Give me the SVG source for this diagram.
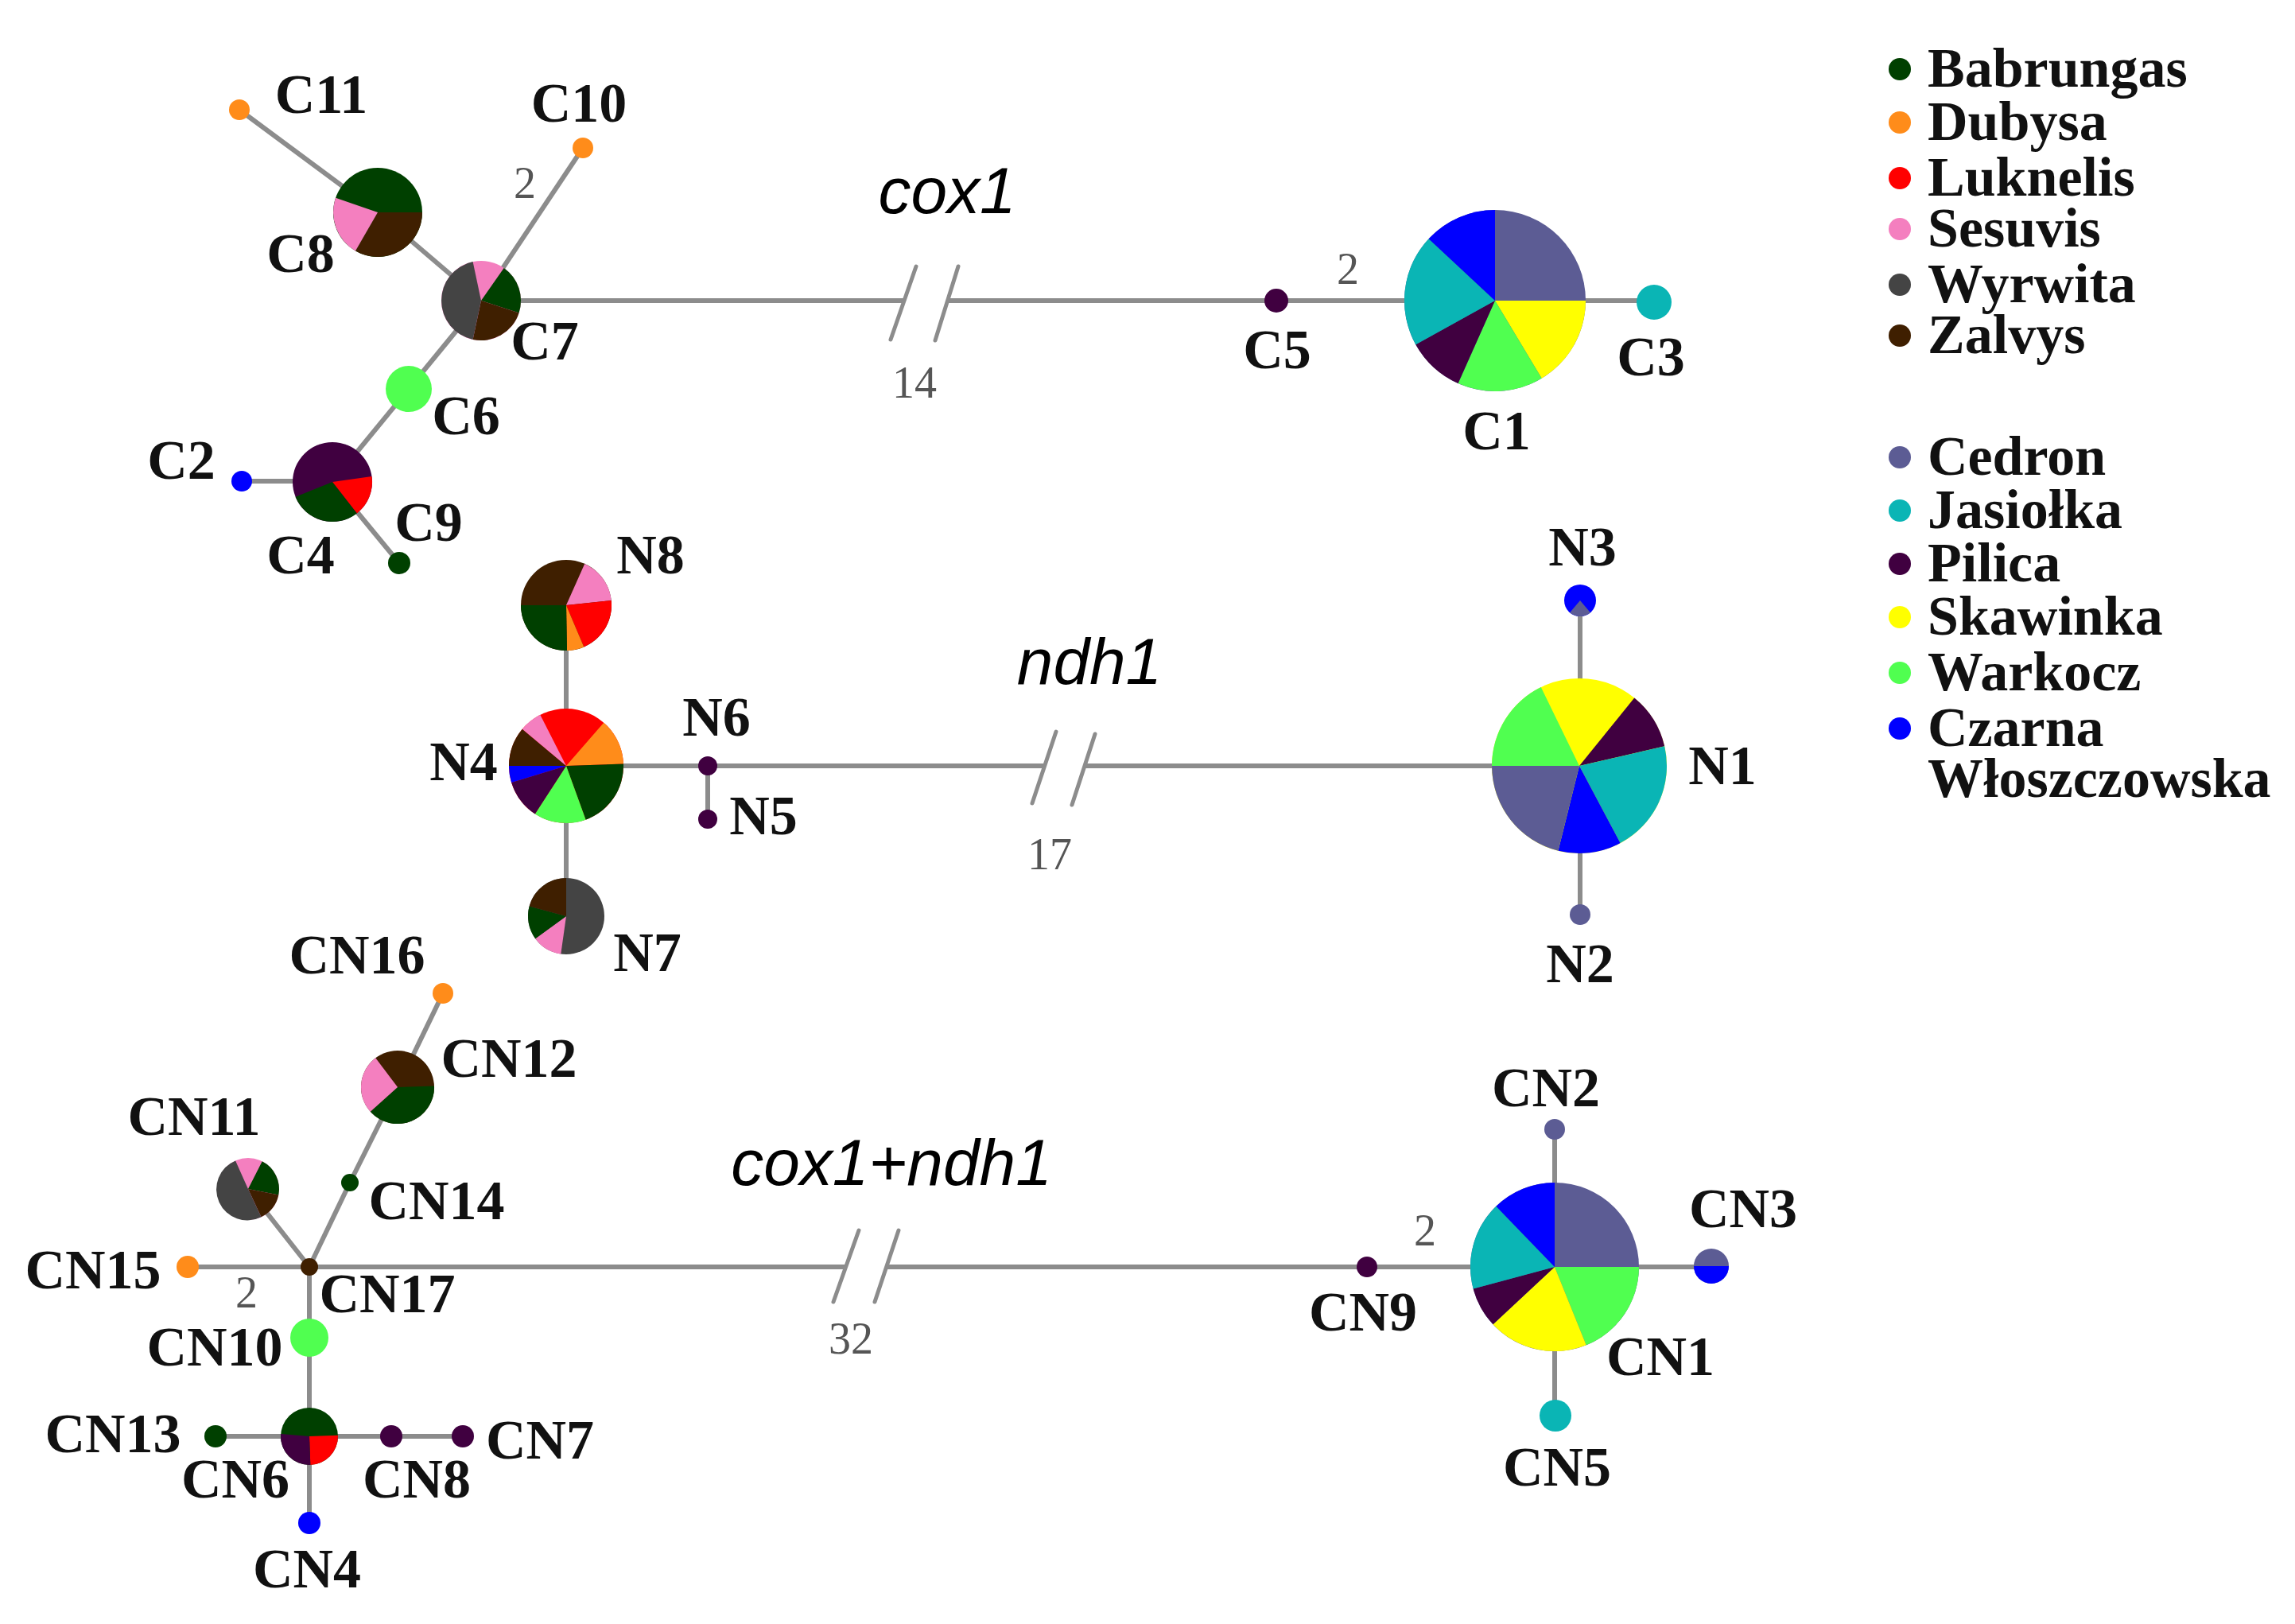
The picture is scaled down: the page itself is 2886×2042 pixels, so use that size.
<svg xmlns="http://www.w3.org/2000/svg" width="2886" height="2042" viewBox="0 0 2886 2042">
<style>
.e{stroke:#8c8c8c;stroke-width:6;fill:none}
.brk{stroke:#8c8c8c;stroke-width:5;stroke-linecap:round}
.lbl{font-family:"Liberation Serif","DejaVu Serif",serif;font-weight:bold;font-size:70px;fill:#111;text-anchor:middle}
.leg{font-family:"Liberation Serif","DejaVu Serif",serif;font-weight:bold;font-size:70px;fill:#111}
.num{font-family:"Liberation Serif","DejaVu Serif",serif;font-size:56px;fill:#555;text-anchor:middle}
.gene{font-family:"Liberation Sans",Arial,sans-serif;font-style:italic;font-size:82px;fill:#000;text-anchor:middle}
.f-bab{fill:#004000}
.f-dub{fill:#ff8c1a}
.f-luk{fill:#ff0000}
.f-ses{fill:#f47fbf}
.f-wyr{fill:#444444}
.f-zal{fill:#3f1f00}
.f-ced{fill:#5c5c94}
.f-jas{fill:#0ab5b5}
.f-pil{fill:#400040}
.f-ska{fill:#ffff00}
.f-war{fill:#50ff50}
.f-cza{fill:#0000ff}
</style>
<rect width="2886" height="2042" fill="#ffffff"/>

<g id="connectors">
  <line class="e" x1="301" y1="138" x2="475" y2="267"/>
  <line class="e" x1="475" y1="267" x2="605" y2="378"/>
  <line class="e" x1="605" y1="378" x2="733" y2="186"/>
  <line class="e" x1="605" y1="378" x2="514" y2="489"/>
  <line class="e" x1="514" y1="489" x2="418" y2="606"/>
  <line class="e" x1="418" y1="605" x2="304" y2="605"/>
  <line class="e" x1="418" y1="606" x2="502" y2="708"/>
  <line class="e" x1="605" y1="378" x2="1137" y2="378"/>
  <line class="e" x1="1192" y1="378" x2="2080" y2="378"/>
  <line class="brk" x1="1152" y1="335" x2="1120" y2="427"/>
  <line class="brk" x1="1205" y1="335" x2="1176" y2="428"/>

  <line class="e" x1="712" y1="761" x2="712" y2="1152"/>
  <line class="e" x1="712" y1="963" x2="1314" y2="963"/>
  <line class="e" x1="1364" y1="963" x2="1986" y2="963"/>
  <line class="e" x1="890" y1="963" x2="890" y2="1030"/>
  <line class="e" x1="1987" y1="755" x2="1987" y2="1150"/>
  <line class="brk" x1="1328" y1="920" x2="1298" y2="1010"/>
  <line class="brk" x1="1377" y1="923" x2="1348" y2="1012"/>

  <line class="e" x1="557" y1="1249" x2="500" y2="1367"/>
  <line class="e" x1="500" y1="1367" x2="440" y2="1487"/>
  <line class="e" x1="440" y1="1487" x2="389" y2="1593"/>
  <line class="e" x1="312" y1="1495" x2="389" y2="1593"/>
  <line class="e" x1="236" y1="1593" x2="389" y2="1593"/>
  <line class="e" x1="389" y1="1593" x2="1064" y2="1593"/>
  <line class="e" x1="1115" y1="1593" x2="2152" y2="1593"/>
  <line class="e" x1="1955" y1="1420" x2="1955" y2="1780"/>
  <line class="e" x1="389" y1="1593" x2="389" y2="1915"/>
  <line class="e" x1="271" y1="1806" x2="582" y2="1806"/>
  <line class="brk" x1="1080" y1="1547" x2="1048" y2="1637"/>
  <line class="brk" x1="1130" y1="1547" x2="1100" y2="1637"/>
</g>

<g id="edge-labels">
  <text class="num" x="660" y="249">2</text>
  <text class="num" x="1150" y="500">14</text>
  <text class="num" x="1695" y="357">2</text>
  <text class="num" x="1320" y="1093">17</text>
  <text class="num" x="310" y="1644">2</text>
  <text class="num" x="1070" y="1702">32</text>
  <text class="num" x="1792" y="1566">2</text>
  <text class="gene" x="1191" y="268">cox1</text>
  <text class="gene" x="1370" y="860">ndh1</text>
  <text class="gene" x="1121" y="1490">cox1+ndh1</text>
</g>

<!-- cox1 -->
<g id="C11"><circle class="f-dub" cx="301" cy="138" r="13"/><text class="lbl" x="404" y="142">C11</text></g>
<g id="C10"><circle class="f-dub" cx="733" cy="186" r="13"/><text class="lbl" x="728" y="153">C10</text></g>
<g id="C8">
  <circle class="f-bab" cx="475" cy="267" r="56"/>
  <path class="f-zal" d="M475 267 L531 267 A56 56 0 0 1 447 315.5 Z"/>
  <path class="f-ses" d="M475 267 L447 315.5 A56 56 0 0 1 422.1 248.8 Z"/>
  <text class="lbl" x="378" y="342">C8</text>
</g>
<g id="C7">
  <circle class="f-ses" cx="605" cy="378" r="50"/>
  <path class="f-bab" d="M605 378 L633.7 337 A50 50 0 0 1 652.6 393.5 Z"/>
  <path class="f-zal" d="M605 378 L652.6 393.5 A50 50 0 0 1 594.6 426.9 Z"/>
  <path class="f-wyr" d="M605 378 L594.6 426.9 A50 50 0 0 1 594.6 329.1 Z"/>
  <text class="lbl" x="685" y="452">C7</text>
</g>
<g id="C6"><circle class="f-war" cx="514" cy="489" r="29"/><text class="lbl" x="586" y="546">C6</text></g>
<g id="C4">
  <circle class="f-pil" cx="418" cy="606" r="50"/>
  <path class="f-luk" d="M418 606 L467.5 599 A50 50 0 0 1 448.8 645.4 Z"/>
  <path class="f-bab" d="M418 606 L448.8 645.4 A50 50 0 0 1 371.6 624.7 Z"/>
  <text class="lbl" x="378" y="721">C4</text>
</g>
<g id="C2"><circle class="f-cza" cx="304" cy="605" r="13"/><text class="lbl" x="228" y="602">C2</text></g>
<g id="C9"><circle class="f-bab" cx="502" cy="708" r="14"/><text class="lbl" x="539" y="680">C9</text></g>
<g id="C5"><circle class="f-pil" cx="1605" cy="378" r="15"/><text class="lbl" x="1606" y="463">C5</text></g>
<g id="C1">
  <circle class="f-ced" cx="1880" cy="378" r="114"/>
  <path class="f-ska" d="M1880 378 L1994 378 A114 114 0 0 1 1938.7 475.7 Z"/>
  <path class="f-war" d="M1880 378 L1938.7 475.7 A114 114 0 0 1 1833.6 482.1 Z"/>
  <path class="f-pil" d="M1880 378 L1833.6 482.1 A114 114 0 0 1 1780.3 433.3 Z"/>
  <path class="f-jas" d="M1880 378 L1780.3 433.3 A114 114 0 0 1 1796.6 300.3 Z"/>
  <path class="f-cza" d="M1880 378 L1796.6 300.3 A114 114 0 0 1 1880 264 Z"/>
  <text class="lbl" x="1882" y="565">C1</text>
</g>
<g id="C3"><circle class="f-jas" cx="2080" cy="380" r="22"/><text class="lbl" x="2076" y="472">C3</text></g>

<!-- ndh1 -->
<g id="N8">
  <circle class="f-zal" cx="712" cy="761" r="57"/>
  <path class="f-ses" d="M712 761 L735.2 708.9 A57 57 0 0 1 768.7 755 Z"/>
  <path class="f-luk" d="M712 761 L768.7 755 A57 57 0 0 1 734.3 813.5 Z"/>
  <path class="f-dub" d="M712 761 L734.3 813.5 A57 57 0 0 1 713 818 Z"/>
  <path class="f-bab" d="M712 761 L713 818 A57 57 0 0 1 655 761 Z"/>
  <text class="lbl" x="818" y="721">N8</text>
</g>
<g id="N4">
  <circle class="f-luk" cx="712" cy="963" r="72"/>
  <path class="f-dub" d="M712 963 L759.2 908.7 A72 72 0 0 1 784 960.5 Z"/>
  <path class="f-bab" d="M712 963 L784 960.5 A72 72 0 0 1 736.6 1030.7 Z"/>
  <path class="f-war" d="M712 963 L736.6 1030.7 A72 72 0 0 1 672.8 1023.4 Z"/>
  <path class="f-pil" d="M712 963 L672.8 1023.4 A72 72 0 0 1 643.1 984.1 Z"/>
  <path class="f-cza" d="M712 963 L643.1 984.1 A72 72 0 0 1 640 963 Z"/>
  <path class="f-zal" d="M712 963 L640 963 A72 72 0 0 1 656.8 916.7 Z"/>
  <path class="f-ses" d="M712 963 L656.8 916.7 A72 72 0 0 1 679.3 898.8 Z"/>
  <text class="lbl" x="583" y="981">N4</text>
</g>
<g id="N6"><circle class="f-pil" cx="890" cy="963" r="12"/><text class="lbl" x="901" y="925">N6</text></g>
<g id="N5"><circle class="f-pil" cx="890" cy="1030" r="12"/><text class="lbl" x="960" y="1049">N5</text></g>
<g id="N7">
  <circle class="f-wyr" cx="712" cy="1152" r="48"/>
  <path class="f-ses" d="M712 1152 L705.3 1199.5 A48 48 0 0 1 673.2 1180.2 Z"/>
  <path class="f-bab" d="M712 1152 L673.2 1180.2 A48 48 0 0 1 665.6 1139.6 Z"/>
  <path class="f-zal" d="M712 1152 L665.6 1139.6 A48 48 0 0 1 712 1104 Z"/>
  <text class="lbl" x="814" y="1221">N7</text>
</g>
<g id="N1">
  <circle class="f-ska" cx="1986" cy="963" r="110"/>
  <path class="f-pil" d="M1986 963 L2055.2 877.5 A110 110 0 0 1 2093.2 938.3 Z"/>
  <path class="f-jas" d="M1986 963 L2093.2 938.3 A110 110 0 0 1 2037.6 1060.1 Z"/>
  <path class="f-cza" d="M1986 963 L2037.6 1060.1 A110 110 0 0 1 1959.4 1069.7 Z"/>
  <path class="f-ced" d="M1986 963 L1959.4 1069.7 A110 110 0 0 1 1876 963 Z"/>
  <path class="f-war" d="M1986 963 L1876 963 A110 110 0 0 1 1937.8 864.1 Z"/>
  <text class="lbl" x="2166" y="986">N1</text>
</g>
<g id="N3">
  <circle class="f-cza" cx="1987" cy="755" r="20"/>
  <path class="f-ced" d="M1987 755 L1999.9 770.3 A20 20 0 0 1 1974.1 770.3 Z"/>
  <text class="lbl" x="1990" y="711">N3</text>
</g>
<g id="N2"><circle class="f-ced" cx="1987" cy="1150" r="13"/><text class="lbl" x="1987" y="1235">N2</text></g>

<!-- cox1+ndh1 -->
<g id="CN16"><circle class="f-dub" cx="557" cy="1249" r="13"/><text class="lbl" x="449" y="1224">CN16</text></g>
<g id="CN12">
  <circle class="f-zal" cx="500" cy="1367" r="46"/>
  <path class="f-bab" d="M500 1367 L546 1365.4 A46 46 0 0 1 465.8 1397.8 Z"/>
  <path class="f-ses" d="M500 1367 L465.8 1397.8 A46 46 0 0 1 472.3 1330.3 Z"/>
  <text class="lbl" x="640" y="1354">CN12</text>
</g>
<g id="CN11">
  <circle class="f-ses" cx="312" cy="1495" r="39"/>
  <path class="f-bab" d="M312 1495 L329.7 1460.3 A39 39 0 0 1 350.3 1502.4 Z"/>
  <path class="f-zal" d="M312 1495 L350.3 1502.4 A39 39 0 0 1 328.5 1530.3 Z"/>
  <path class="f-wyr" d="M312 1495 L328.5 1530.3 A39 39 0 1 1 296.1 1459.4 Z"/>
  <text class="lbl" x="244" y="1427">CN11</text>
</g>
<g id="CN14"><circle class="f-bab" cx="440" cy="1487" r="11"/><text class="lbl" x="549" y="1533">CN14</text></g>
<g id="CN17"><circle class="f-zal" cx="389" cy="1593" r="11"/><text class="lbl" x="487" y="1650">CN17</text></g>
<g id="CN15"><circle class="f-dub" cx="236" cy="1593" r="14"/><text class="lbl" x="117" y="1620">CN15</text></g>
<g id="CN10"><circle class="f-war" cx="389" cy="1682" r="24"/><text class="lbl" x="270" y="1717">CN10</text></g>
<g id="CN6">
  <circle class="f-bab" cx="389" cy="1806" r="36"/>
  <path class="f-luk" d="M389 1806 L425 1804.7 A36 36 0 0 1 390.3 1842 Z"/>
  <path class="f-pil" d="M389 1806 L390.3 1842 A36 36 0 0 1 353.1 1802.9 Z"/>
  <text class="lbl" x="296" y="1883">CN6</text>
</g>
<g id="CN13"><circle class="f-bab" cx="271" cy="1806" r="14"/><text class="lbl" x="142" y="1826">CN13</text></g>
<g id="CN8"><circle class="f-pil" cx="492" cy="1806" r="14"/><text class="lbl" x="524" y="1883">CN8</text></g>
<g id="CN7"><circle class="f-pil" cx="582" cy="1806" r="14"/><text class="lbl" x="679" y="1834">CN7</text></g>
<g id="CN4"><circle class="f-cza" cx="389" cy="1915" r="14"/><text class="lbl" x="386" y="1996">CN4</text></g>
<g id="CN9"><circle class="f-pil" cx="1719" cy="1593" r="13"/><text class="lbl" x="1714" y="1673">CN9</text></g>
<g id="CN1">
  <circle class="f-ced" cx="1955" cy="1593" r="106"/>
  <path class="f-war" d="M1955 1593 L2061 1593 A106 106 0 0 1 1994.7 1691.3 Z"/>
  <path class="f-ska" d="M1955 1593 L1994.7 1691.3 A106 106 0 0 1 1877.5 1665.3 Z"/>
  <path class="f-pil" d="M1955 1593 L1877.5 1665.3 A106 106 0 0 1 1852.6 1620.4 Z"/>
  <path class="f-jas" d="M1955 1593 L1852.6 1620.4 A106 106 0 0 1 1881.4 1516.8 Z"/>
  <path class="f-cza" d="M1955 1593 L1881.4 1516.8 A106 106 0 0 1 1955 1487 Z"/>
  <text class="lbl" x="2088" y="1729">CN1</text>
</g>
<g id="CN2"><circle class="f-ced" cx="1955" cy="1420" r="13"/><text class="lbl" x="1944" y="1391">CN2</text></g>
<g id="CN3">
  <circle class="f-ced" cx="2152" cy="1592" r="22"/>
  <path class="f-cza" d="M2152 1592 L2174 1592 A22 22 0 0 1 2130 1592 Z"/>
  <text class="lbl" x="2192" y="1543">CN3</text>
</g>
<g id="CN5"><circle class="f-jas" cx="1956" cy="1780" r="20"/><text class="lbl" x="1958" y="1868">CN5</text></g>

<g id="legend">
  <circle class="f-bab" cx="2389" cy="87" r="14"/><text class="leg" x="2424" y="109">Babrungas</text>
  <circle class="f-dub" cx="2389" cy="154" r="14"/><text class="leg" x="2424" y="176">Dubysa</text>
  <circle class="f-luk" cx="2389" cy="224" r="14"/><text class="leg" x="2424" y="246">Luknelis</text>
  <circle class="f-ses" cx="2389" cy="288" r="14"/><text class="leg" x="2424" y="310">Sesuvis</text>
  <circle class="f-wyr" cx="2389" cy="358" r="14"/><text class="leg" x="2424" y="380">Wyrwita</text>
  <circle class="f-zal" cx="2389" cy="422" r="14"/><text class="leg" x="2424" y="444">Zalvys</text>
  <circle class="f-ced" cx="2389" cy="575" r="14"/><text class="leg" x="2424" y="597">Cedron</text>
  <circle class="f-jas" cx="2389" cy="642" r="14"/><text class="leg" x="2424" y="664">Jasiołka</text>
  <circle class="f-pil" cx="2389" cy="709" r="14"/><text class="leg" x="2424" y="731">Pilica</text>
  <circle class="f-ska" cx="2389" cy="776" r="14"/><text class="leg" x="2424" y="798">Skawinka</text>
  <circle class="f-war" cx="2389" cy="846" r="14"/><text class="leg" x="2424" y="868">Warkocz</text>
  <circle class="f-cza" cx="2389" cy="916" r="14"/><text class="leg" x="2424" y="938">Czarna</text>
  <text class="leg" x="2424" y="1002">Włoszczowska</text>
</g>
</svg>
